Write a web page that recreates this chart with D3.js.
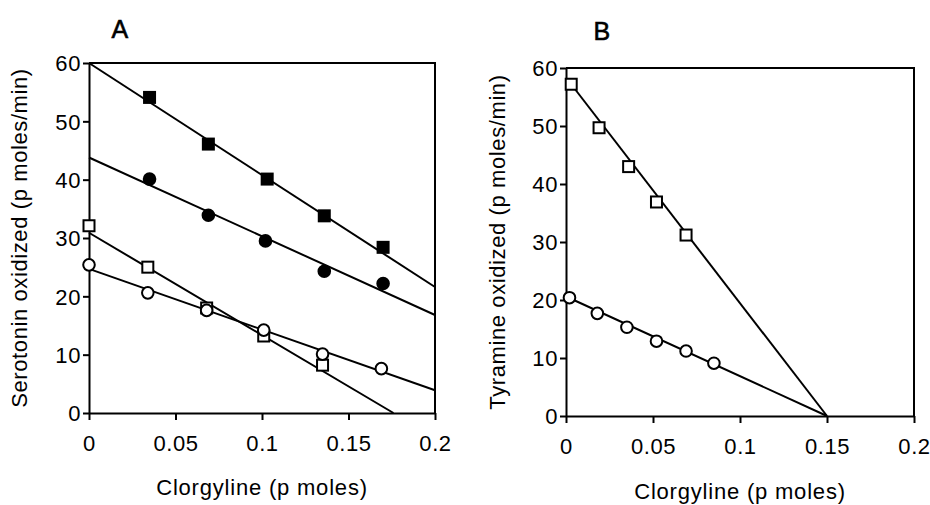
<!DOCTYPE html>
<html>
<head>
<meta charset="utf-8">
<script src="https://cdn.jsdelivr.net/npm/d3@7"></script>
<style>
  body { margin: 0; background: #fff; }
  svg { display: block; }
</style>
</head>
<body>
<script>
// values
const xTicks = [0, 0.05, 0.1, 0.15, 0.2];
const yTicks = [0, 10, 20, 30, 40, 50, 60];

// panel A: serotonin
const aFilledSquares = [[0.035, 54.1], [0.069, 46.1], [0.103, 40.1], [0.136, 33.8], [0.170, 28.4]];
const aFilledCircles = [[0.035, 40.1], [0.069, 33.9], [0.102, 29.5], [0.136, 24.3], [0.170, 22.2]];
const aOpenSquares = [[0, 32.1], [0.034, 25.0], [0.068, 18.0], [0.101, 13.2], [0.135, 8.2]];
const aOpenCircles = [[0, 25.4], [0.034, 20.6], [0.068, 17.6], [0.101, 14.2], [0.135, 10.1], [0.169, 7.6]];
const aFitFilledSquares = [[0, 60], [0.2, 21.6]];
const aFitFilledCircles = [[0, 43.8], [0.2, 16.8]];
const aFitOpenSquares = [[0, 30.9], [0.176, 0]];
const aFitOpenCircles = [[0, 24.7], [0.2, 3.9]];

// panel B: tyramine
const bOpenSquares = [[0.003, 57.2], [0.019, 49.7], [0.036, 43.0], [0.052, 36.9], [0.069, 31.2]];
const bOpenCircles = [[0.002, 20.4], [0.018, 17.7], [0.035, 15.3], [0.052, 12.9], [0.069, 11.2], [0.085, 9.1]];
const bFitOpenSquares = [[0.003, 57.2], [0.15, 0]];
const bFitOpenCircles = [[0, 20.6], [0.15, 0]];

const width = 930;
const height = 505;
const font = '"Liberation Sans", Arial, sans-serif';

const svg = d3.select('body')
  .append('svg')
  .attr('width', width)
  .attr('height', height)
  .style('font-family', font);

const panels = [
  {
    letter: 'A', letterX: 120, letterY: 38,
    xr: [89, 435], yr: [413, 63],
    yTitle: 'Serotonin oxidized (p moles/min)', yTitleX: 27,
    xTitleY: 495,
    fits: [aFitFilledSquares, aFitFilledCircles, aFitOpenSquares, aFitOpenCircles],
    series: [
      { pts: aFilledSquares, shape: 'square', fill: '#000' },
      { pts: aFilledCircles, shape: 'circle', fill: '#000' },
      { pts: aOpenSquares, shape: 'square', fill: '#fff' },
      { pts: aOpenCircles, shape: 'circle', fill: '#fff' },
    ],
  },
  {
    letter: 'B', letterX: 602, letterY: 40,
    xr: [566, 914], yr: [416, 68],
    yTitle: 'Tyramine oxidized (p moles/min)', yTitleX: 505,
    xTitleY: 499,
    fits: [bFitOpenSquares, bFitOpenCircles],
    series: [
      { pts: bOpenSquares, shape: 'square', fill: '#fff' },
      { pts: bOpenCircles, shape: 'circle', fill: '#fff' },
    ],
  },
];

panels.forEach(p => {
  const x = d3.scaleLinear().domain([0, 0.2]).range(p.xr);
  const y = d3.scaleLinear().domain([0, 60]).range(p.yr);
  const g = svg.append('g');

  // box: top and right edges
  g.append('path')
    .attr('d', `M${p.xr[0]},${p.yr[1]}H${p.xr[1]}V${p.yr[0]}`)
    .attr('fill', 'none')
    .attr('stroke', '#000')
    .attr('stroke-width', 2);

  const xAxis = g.append('g')
    .attr('transform', `translate(0,${p.yr[0]})`)
    .call(d3.axisBottom(x).tickValues(xTicks).tickFormat(d => String(d)).tickSize(7).tickSizeOuter(0).tickPadding(15));

  const yAxis = g.append('g')
    .attr('transform', `translate(${p.xr[0]},0)`)
    .call(d3.axisLeft(y).tickValues(yTicks).tickSize(6).tickSizeOuter(0).tickPadding(2));

  [xAxis, yAxis].forEach(ax => {
    ax.select('.domain').attr('stroke-width', 2);
    ax.selectAll('.tick line').attr('stroke-width', 2);
    ax.selectAll('text')
      .attr('fill', '#000')
      .style('font-family', font)
      .style('font-size', '22px')
      .style('letter-spacing', '0.6px');
  });
  yAxis.selectAll('text').attr('dy', '0.36em');

  // fitted lines
  const line = d3.line().x(d => x(d[0])).y(d => y(d[1]));
  g.selectAll('.fit')
    .data(p.fits)
    .join('path')
      .attr('class', 'fit')
      .attr('d', line)
      .attr('fill', 'none')
      .attr('stroke', '#000')
      .attr('stroke-width', 2);

  // markers
  p.series.forEach(s => {
    const m = g.append('g').selectAll('.m')
      .data(s.pts)
      .join(s.shape === 'square' ? 'rect' : 'circle')
        .attr('fill', s.fill)
        .attr('stroke', '#000')
        .attr('stroke-width', 2);
    if (s.shape === 'square') {
      m.attr('x', d => x(d[0]) - 5.5)
        .attr('y', d => y(d[1]) - 5.5)
        .attr('width', 11)
        .attr('height', 11);
    } else {
      m.attr('cx', d => x(d[0]))
        .attr('cy', d => y(d[1]))
        .attr('r', 5.8);
    }
  });

  // titles
  svg.append('text')
    .attr('x', p.letterX)
    .attr('y', p.letterY)
    .attr('text-anchor', 'middle')
    .style('font-size', '25px')
    .style('letter-spacing', '0.5px')
    .style('stroke', '#000')
    .style('stroke-width', 0.6)
    .text(p.letter);

  svg.append('text')
    .attr('x', (p.xr[0] + p.xr[1]) / 2)
    .attr('y', p.xTitleY)
    .attr('text-anchor', 'middle')
    .style('font-size', '22px')
    .style('letter-spacing', '0.8px')
    .text('Clorgyline (p moles)');

  svg.append('text')
    .attr('transform', `translate(${p.yTitleX},${(p.yr[0] + p.yr[1]) / 2}) rotate(-90)`)
    .attr('text-anchor', 'middle')
    .style('font-size', '22px')
    .style('letter-spacing', '0.6px')
    .text(p.yTitle);
});
</script>
</body>
</html>
